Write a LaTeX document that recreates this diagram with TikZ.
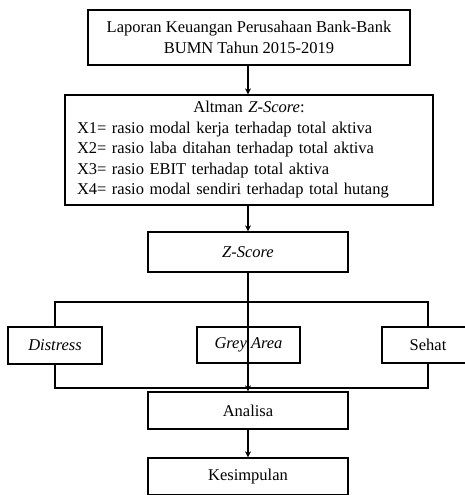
\documentclass[tikz,border=0pt]{standalone}
\usepackage{fontspec}
\setmainfont{Liberation Serif}
\usetikzlibrary{arrows.meta}
\begin{document}
\begin{tikzpicture}[x=1pt,y=-1pt,
  box/.style={draw,line width=1.3pt,inner sep=0pt,align=center,font=\fontsize{16.5}{21.5}\selectfont},
  conn/.style={line width=1.3pt},
  arr/.style={line width=1.3pt,-{Stealth[length=6pt,width=6pt]}}]
\clip (0,0) rectangle (465,495);
\useasboundingbox (0,0) rectangle (465,495);
\node[box,minimum width=322pt,minimum height=55pt] (b1) at (249,37.5) {Laporan Keuangan Perusahaan Bank-Bank\\BUMN Tahun 2015-2019};
\node[box,minimum width=368pt,minimum height=110pt,text width=344pt,align=left,font=\fontsize{16.5}{20.5}\selectfont] (b2) at (249,150) {\hfill Altman \textit{Z-Score}:\hfill\hspace*{0pt}\\
X1= rasio modal kerja terhadap total aktiva\\
X2= rasio laba ditahan terhadap total aktiva\\
X3= rasio EBIT terhadap total aktiva\\
X4= rasio modal sendiri terhadap total hutang};
\node[box,minimum width=200pt,minimum height=40pt] (zs) at (248,252) {\textit{Z-Score}};
\node[box,minimum width=94pt,minimum height=37pt] (dis) at (55,345.5) {\textit{Distress}};
\node[box,minimum width=103pt,minimum height=36pt] (grey) at (248.5,345) {\textit{Grey Area}};
\node[box,minimum width=92pt,minimum height=36pt] (seh) at (428,345) {Sehat};
\node[box,minimum width=200pt,minimum height=37pt] (ana) at (248,410.5) {Analisa};
\node[box,minimum width=200pt,minimum height=37pt] (kes) at (248,476.5) {Kesimpulan};
\coordinate (tl) at (55,302);
\coordinate (tr) at (428,302);
\coordinate (bl) at (55,388);
\coordinate (br) at (428,388);
\draw[conn] (dis.north) -- (tl) -- (tr) -- (seh.north);
\draw[conn] (dis.south) -- (bl) -- (br) -- (seh.south);
\draw[arr] (b1.south -| zs.north) -- (b2.north -| zs.north);
\draw[arr] (b2.south -| zs.north) -- (zs.north);
\draw[arr] (zs.south) -- (ana.north);
\draw[arr] (ana.south) -- (kes.north);
\end{tikzpicture}
\end{document}
